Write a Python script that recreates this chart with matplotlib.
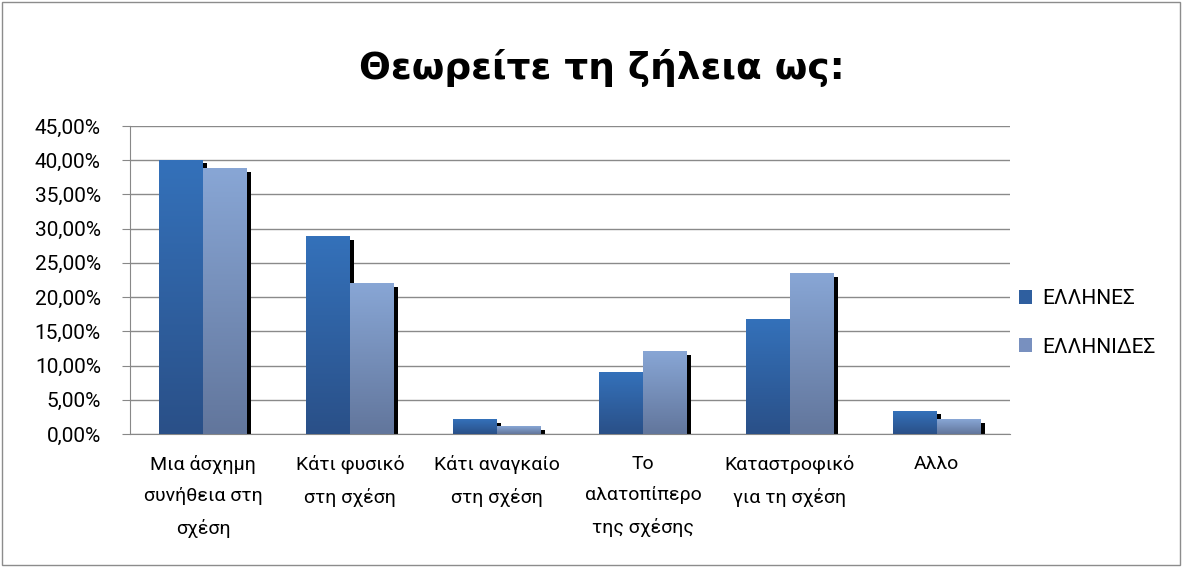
import numpy as np
from matplotlib import pyplot as plt
from matplotlib.patches import Patch, Rectangle
from matplotlib.colors import LinearSegmentedColormap

# data
categories = ["Μια άσχημη\nσυνήθεια στη\nσχέση", "Κάτι φυσικό\nστη σχέση", "Κάτι αναγκαίο\nστη σχέση",
              "Το\nαλατοπίπερο\nτης σχέσης", "Καταστροφικό\nγια τη σχέση", "Αλλο"]
ellhnes = [40.0, 28.8, 2.1, 9.0, 16.7, 3.3]
ellhnides = [38.8, 22.0, 1.1, 12.0, 23.4, 2.1]
series_names = ["ΕΛΛΗΝΕΣ", "ΕΛΛΗΝΙΔΕΣ"]
yticks = [0, 5, 10, 15, 20, 25, 30, 35, 40, 45]

plt.rcParams['font.family'] = ['Roboto', 'DejaVu Sans']

fig = plt.figure(figsize=(11.84, 5.67), dpi=100)
ax = fig.add_axes([130/1184, 1 - 434/567, 880/1184, 308/567])

# outer border of the chart
fig.patches.append(Rectangle((0.002, 0.003), 0.995, 0.994, transform=fig.transFigure,
                             fill=False, edgecolor='#8c8c8c', linewidth=1))

x = np.arange(len(categories))
w = 0.3
cmap1 = LinearSegmentedColormap.from_list('c1', ['#2a5088', '#3471ba'])
cmap2 = LinearSegmentedColormap.from_list('c2', ['#62769c', '#88a6d5'])
grad = np.linspace(0, 1, 100).reshape(-1, 1)

for vals, off, cmap in [(ellhnes, -w/2, cmap1), (ellhnides, w/2, cmap2)]:
    for xi, v in zip(x, vals):
        x0 = xi + off - w/2
        # shadow
        ax.add_patch(Rectangle((x0 + 0.028, 0), w, v - 0.45, facecolor='black', zorder=2))
    for xi, v in zip(x, vals):
        x0 = xi + off - w/2
        ax.imshow(grad, extent=(x0, x0 + w, 0, v), origin='lower', cmap=cmap,
                  aspect='auto', zorder=3 if off < 0 else 4)

ax.set_xlim(-0.5, len(categories) - 0.5)
ax.set_ylim(0, 45)
ax.set_yticks(yticks)
ax.set_yticklabels([f"{t:.2f}%".replace('.', ',') for t in yticks], fontsize=15)
ax.set_xticks(x)
ax.set_xticklabels(categories, fontsize=14, linespacing=1.95)
ax.tick_params(axis='x', length=0, pad=15)
ax.tick_params(axis='y', length=6, color='#888888', pad=15)
ax.grid(axis='y', color='#8a8a8a', linewidth=1, zorder=0)
ax.set_axisbelow(True)
for s in ['top', 'right']:
    ax.spines[s].set_visible(False)
ax.spines['left'].set_color('#888888')
ax.spines['bottom'].set_color('#888888')

handles = [Patch(facecolor='#2f5f9f'), Patch(facecolor='#7890bf')]
fig.legend(handles, series_names, loc='center left', bbox_to_anchor=(1000/1184, 1 - 323/567),
           frameon=False, fontsize=15, handlelength=0.65, handleheight=0.65, labelspacing=1.4,
           handletextpad=0.5)

fig.text(602/1184, 1 - 68/567, "Θεωρείτε τη ζήλεια ως:", ha='center', va='center',
         fontsize=27, fontweight='bold', family=['DejaVu Sans'])

plt.savefig('out.png', dpi=100)
